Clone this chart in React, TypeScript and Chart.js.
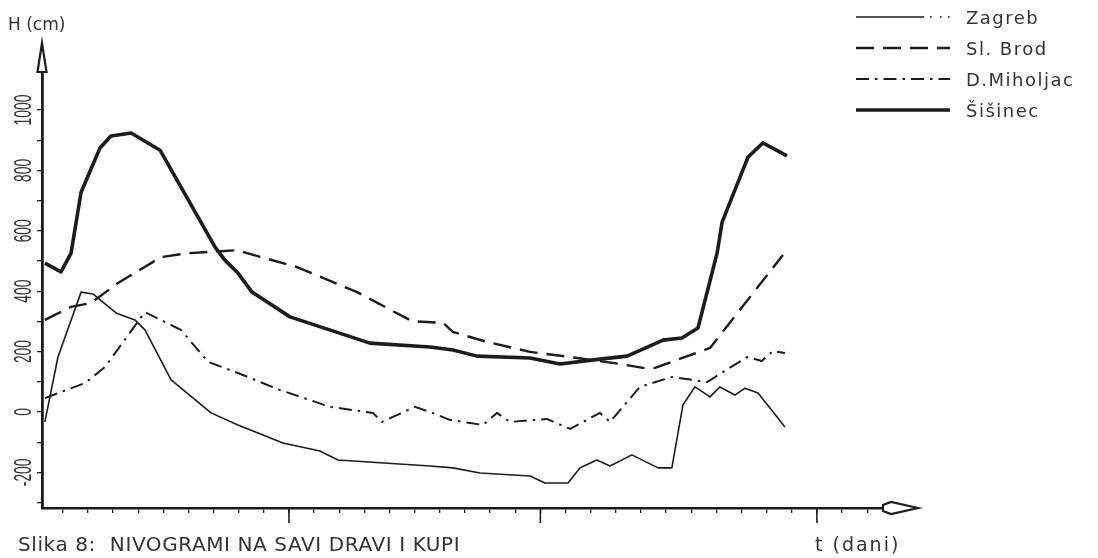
import React, { useEffect, useRef } from 'react';
import { Chart, registerables } from 'chart.js';

Chart.register(...registerables);

// ---- data (t in days, H in cm) ----
const zagrebDays = [0.29, 0.81, 1.73, 2.20, 3.12, 3.87, 4.27, 5.31, 6.90, 7.97, 9.76, 11.23, 11.95, 15.61, 16.52, 17.60, 19.59, 20.18, 21.10, 21.58, 22.25, 22.77, 23.64, 24.68, 25.23, 25.67, 26.15, 26.75, 27.14, 27.74, 28.14, 28.66, 29.73];
const zagrebH = [-33, 182, 397, 391, 328, 305, 272, 106, -3, -43, -103, -129, -159, -179, -185, -202, -212, -235, -235, -185, -159, -179, -142, -185, -185, 23, 83, 50, 83, 56, 79, 63, -50];

const brodDays = [0.29, 1.33, 2.12, 3.20, 4.91, 5.98, 7.97, 8.33, 10.32, 12.71, 14.89, 16.13, 16.52, 17.88, 19.59, 21.46, 23.17, 24.08, 24.56, 26.75, 29.65];
const brodH = [305, 348, 361, 427, 513, 526, 536, 526, 480, 397, 301, 295, 265, 232, 199, 179, 159, 146, 146, 212, 520];

const miholjacDays = [0.29, 1.89, 2.68, 4.27, 5.70, 6.78, 7.97, 9.64, 11.63, 13.34, 13.70, 15.01, 15.61, 16.40, 17.72, 18.27, 18.79, 20.26, 21.18, 22.37, 22.77, 23.96, 25.23, 26.07, 26.63, 28.22, 28.81, 29.25, 29.73];
const miholjacH = [46, 96, 149, 331, 272, 166, 129, 73, 17, -3, -33, 17, 0, -26, -43, -3, -33, -23, -56, -3, -33, 83, 116, 106, 99, 182, 169, 202, 195];

const sisinecDays = [0.29, 0.93, 1.33, 1.73, 2.48, 2.92, 3.72, 4.87, 7.06, 7.45, 7.97, 8.53, 10.04, 13.22, 15.61, 16.52, 17.48, 19.59, 20.78, 22.37, 23.45, 24.88, 25.63, 26.27, 27.03, 27.23, 28.26, 28.85, 29.81];
const sisinecH = [493, 464, 526, 728, 874, 914, 924, 867, 546, 503, 460, 397, 315, 228, 215, 205, 185, 179, 159, 175, 185, 238, 245, 278, 526, 629, 844, 891, 848];

const seriesNames = ['Zagreb', 'Sl. Brod', 'D.Miholjac', 'Šišinec'];
const yTickValues = [-300, -200, -100, 0, 100, 200, 300, 400, 500, 600, 700, 800, 900, 1000];
const yLabelValues = [-200, 0, 200, 400, 600, 800, 1000];
const xTickDays = Array.from({ length: 33 }, (_, i) => i + 1);
const xMajorDays = [10, 20, 31];

const INK = '#1c1c1c';
const TEXT = '#333';
const FONT = '"DejaVu Sans", "Liberation Sans", sans-serif';

const styles = [
  { width: 1.6, dash: [] as number[] },
  { width: 2.4, dash: [18, 9] },
  { width: 2.0, dash: [13, 6, 2.5, 6] },
  { width: 3.6, dash: [] as number[] },
];

const toPoints = (xs: number[], ys: number[]) => xs.map((x, i) => ({ x, y: ys[i] }));

const decorPlugin = {
  id: 'decor',
  afterDraw(chart: any) {
    const ctx = chart.ctx as CanvasRenderingContext2D;
    const { left, right, top, bottom } = chart.chartArea;
    const xs = chart.scales.x;
    const ys = chart.scales.y;
    ctx.save();
    ctx.strokeStyle = INK;
    ctx.fillStyle = '#fff';
    ctx.setLineDash([]);
    // y arrow (open)
    ctx.lineWidth = 2.2;
    ctx.beginPath();
    ctx.moveTo(left, top - 29);
    ctx.lineTo(left + 4.5, top);
    ctx.lineTo(left - 4.5, top);
    ctx.closePath();
    ctx.fill();
    ctx.stroke();
    // x arrow (open)
    ctx.beginPath();
    ctx.moveTo(right + 35, bottom);
    ctx.lineTo(right + 8, bottom - 6);
    ctx.lineTo(right, bottom - 3);
    ctx.lineTo(right, bottom + 3);
    ctx.lineTo(right + 8, bottom + 6);
    ctx.closePath();
    ctx.fill();
    ctx.stroke();
    // major x ticks
    ctx.lineWidth = 1.6;
    xMajorDays.forEach((d) => {
      const px = xs.getPixelForValue(d);
      ctx.beginPath();
      ctx.moveTo(px, bottom);
      ctx.lineTo(px, bottom + 15);
      ctx.stroke();
    });

    // y tick labels (rotated, condensed)
    ctx.fillStyle = TEXT;
    yLabelValues.forEach((v) => {
      const py = ys.getPixelForValue(v);
      ctx.save();
      ctx.translate(25, py);
      ctx.rotate(-Math.PI / 2);
      ctx.scale(0.6, 1);
      ctx.textAlign = 'center';
      ctx.textBaseline = 'middle';
      ctx.font = `23px "Liberation Sans", ${FONT}`;
      ctx.fillText(String(v), 0, 0);
      ctx.restore();
    });

    // texts
    ctx.fillStyle = TEXT;
    ctx.textBaseline = 'alphabetic';
    ctx.textAlign = 'left';
    (ctx as any).letterSpacing = '0px';
    ctx.font = `17px ${FONT}`;
    ctx.fillText('H (cm)', 8, 30);
    (ctx as any).letterSpacing = '0.6px';
    ctx.font = `20px ${FONT}`;
    ctx.fillText('Slika 8:  NIVOGRAMI NA SAVI DRAVI I KUPI', 18, 551);
    (ctx as any).letterSpacing = '2px';
    ctx.font = `19px ${FONT}`;
    ctx.fillText('t (dani)', 815, 551);

    // legend
    const lx0 = 856;
    const lx1 = 950;
    const rows = [17, 48, 79, 110];
    seriesNames.forEach((name, i) => {
      const y = rows[i];
      ctx.strokeStyle = INK;
      ctx.lineWidth = styles[i].width;
      ctx.setLineDash(styles[i].dash);
      ctx.beginPath();
      ctx.moveTo(lx0, y);
      ctx.lineTo(i === 0 ? lx0 + 68 : lx1, y);
      ctx.stroke();
      if (i === 0) {
        ctx.setLineDash([]);
        ctx.fillStyle = INK;
        [930, 940, 948].forEach((dx) => ctx.fillRect(dx, y - 0.8, 1.6, 1.6));
      }
      ctx.setLineDash([]);
      ctx.fillStyle = TEXT;
      (ctx as any).letterSpacing = '1.5px';
      ctx.font = `18px ${FONT}`;
      ctx.fillText(name, 966, y + 7);
    });
    ctx.restore();
  },
};

export default function App() {
  const ref = useRef<HTMLCanvasElement | null>(null);

  useEffect(() => {
    document.body.style.margin = '0';
    const canvas = ref.current;
    if (!canvas) return;
    const all = [
      toPoints(zagrebDays, zagrebH),
      toPoints(brodDays, brodH),
      toPoints(miholjacDays, miholjacH),
      toPoints(sisinecDays, sisinecH),
    ];
    const chart = new Chart(canvas, {
      type: 'line',
      data: {
        datasets: all.map((pts, i) => ({
          label: seriesNames[i],
          data: pts,
          borderColor: INK,
          borderWidth: styles[i].width,
          borderDash: styles[i].dash,
          pointRadius: 0,
          tension: 0,
          fill: false,
          borderJoinStyle: 'round' as const,
        })),
      },
      options: {
        responsive: false,
        animation: false,
        events: [],
        layout: { padding: { top: 72, right: 215, bottom: 0, left: 0 } },
        plugins: { legend: { display: false }, tooltip: { enabled: false }, title: { display: false } },
        scales: {
          x: {
            type: 'linear',
            min: 0.175,
            max: 33.63,
            afterBuildTicks: (s: any) => {
              s.ticks = xTickDays.map((v) => ({ value: v }));
            },
            afterFit: (s: any) => {
              s.height = 50;
            },
            ticks: { callback: () => '', autoSkip: false, maxRotation: 0, padding: 0 },
            grid: { drawOnChartArea: false, drawTicks: true, tickLength: 5, color: INK, lineWidth: 1.3 },
            border: { display: true, color: INK, width: 2.6 },
          },
          y: {
            type: 'linear',
            min: -318,
            max: 1126,
            afterBuildTicks: (s: any) => {
              s.ticks = yTickValues.map((v) => ({ value: v }));
            },
            afterFit: (s: any) => {
              s.width = 42;
            },
            ticks: { autoSkip: false, callback: () => '', padding: 0 },
            grid: { drawOnChartArea: false, drawTicks: true, tickLength: 5, color: INK, lineWidth: 1.3 },
            border: { display: true, color: INK, width: 2.8 },
          },
        },
      },
      plugins: [decorPlugin],
    });
    return () => chart.destroy();
  }, []);

  return (
    <div style={{ width: 1098, height: 558, background: '#fff' }}>
      <canvas ref={ref} width={1098} height={558} style={{ display: 'block' }} />
    </div>
  );
}
